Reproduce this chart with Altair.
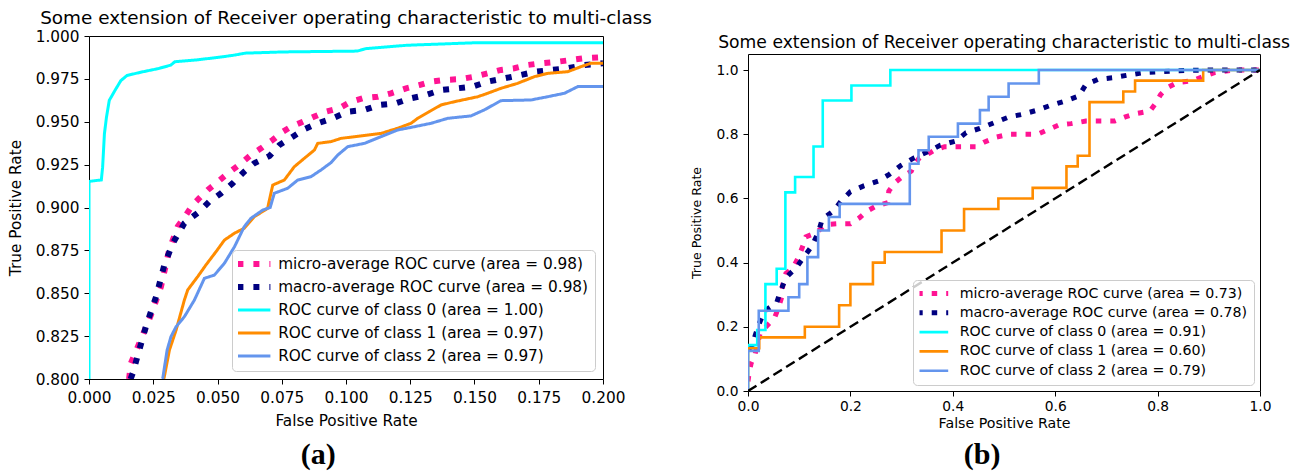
import altair as alt
import pandas as pd

FONT = "DejaVu Sans"
TITLE = "Some extension of Receiver operating characteristic to multi-class"
COLORS = ["#FF1493", "#000080", "#00FFFF", "#FF8C00", "#6495ED"]

# ---------------- panel (a): zoomed ROC ----------------
A_LABELS = [
    "micro-average ROC curve (area = 0.98)",
    "macro-average ROC curve (area = 0.98)",
    "ROC curve of class 0 (area = 1.00)",
    "ROC curve of class 1 (area = 0.97)",
    "ROC curve of class 2 (area = 0.97)",
]
A_MICRO_X = [0.0156, 0.0163, 0.0202, 0.0241, 0.028, 0.0312, 0.0345, 0.0377, 0.0403, 0.0429, 0.0462,
             0.0501, 0.054, 0.0592, 0.063, 0.0669, 0.0715, 0.0754, 0.0786, 0.0832, 0.0877, 0.0922,
             0.0974, 0.1019, 0.1065, 0.1123, 0.1175, 0.1234, 0.1285, 0.1331, 0.1383, 0.1441, 0.15,
             0.1551, 0.1603, 0.1655, 0.1707, 0.1759, 0.1824, 0.1875, 0.1927, 0.2]
A_MICRO_Y = [0.800, 0.8092, 0.8231, 0.8373, 0.8538, 0.8752, 0.8888, 0.8956, 0.9015, 0.9054, 0.9102,
             0.915, 0.9199, 0.9258, 0.9306, 0.9345, 0.9394, 0.9442, 0.9471, 0.95, 0.953, 0.9559,
             0.9579, 0.9617, 0.9637, 0.9646, 0.9666, 0.9695, 0.9714, 0.9734, 0.9744, 0.9748, 0.9763,
             0.9782, 0.9802, 0.9812, 0.9831, 0.9841, 0.985, 0.986, 0.987, 0.9876]
A_MACRO_X = [0.0162, 0.017, 0.0222, 0.0261, 0.0293, 0.0326, 0.0371, 0.0429, 0.0468, 0.0514, 0.0559,
             0.0604, 0.0643, 0.0702, 0.0741, 0.0793, 0.0838, 0.089, 0.0948, 0.1007, 0.1072, 0.113,
             0.1195, 0.1253, 0.1311, 0.137, 0.1434, 0.1493, 0.1551, 0.1616, 0.1681, 0.1739, 0.1798,
             0.1863, 0.1927, 0.2]
A_MACRO_Y = [0.800, 0.8033, 0.8309, 0.848, 0.8665, 0.8791, 0.8908, 0.8976, 0.9034, 0.9083, 0.9141,
             0.9209, 0.9258, 0.93, 0.9364, 0.9413, 0.9456, 0.9491, 0.952, 0.9559, 0.9569, 0.9598,
             0.9608, 0.9637, 0.9656, 0.9685, 0.9695, 0.9705, 0.9734, 0.9753, 0.9773, 0.9792, 0.9802,
             0.9812, 0.9831, 0.9841]
A_C0_X = [0.0, 0.0, 0.0048, 0.0053, 0.006, 0.0068, 0.0079, 0.010, 0.0124, 0.0148, 0.0205, 0.027,
          0.0318, 0.0334, 0.0415, 0.0495, 0.056, 0.0608, 0.0753, 0.1044, 0.1076, 0.1237, 0.151, 0.2]
A_C0_Y = [0.8, 0.9152, 0.9161, 0.9235, 0.943, 0.9527, 0.9625, 0.968, 0.974, 0.977, 0.979, 0.981,
          0.983, 0.985, 0.986, 0.9874, 0.9887, 0.990, 0.9907, 0.9912, 0.9926, 0.9946, 0.9961, 0.9961]
A_C1_X = [0.0291, 0.0293, 0.0313, 0.0339, 0.0371, 0.0384, 0.0423, 0.0455, 0.0494, 0.0527, 0.0566,
          0.0604, 0.0643, 0.0695, 0.0702, 0.0715, 0.076, 0.0799, 0.0838, 0.0877, 0.089, 0.0942,
          0.098, 0.1136, 0.1201, 0.1253, 0.1279, 0.1324, 0.137, 0.1422, 0.1513, 0.1551, 0.1603,
          0.1668, 0.1733, 0.1785, 0.1863, 0.1914, 0.1953, 0.2]
A_C1_Y = [0.800, 0.8013, 0.8169, 0.8286, 0.846, 0.8519, 0.8597, 0.8665, 0.8742, 0.881, 0.885,
          0.8879, 0.8946, 0.8995, 0.9044, 0.9131, 0.916, 0.9238, 0.9287, 0.9335, 0.9374, 0.9384,
          0.9403, 0.9432, 0.9462, 0.9491, 0.952, 0.9559, 0.9598, 0.9617, 0.9646, 0.9666, 0.9695,
          0.9724, 0.9763, 0.9782, 0.9792, 0.9821, 0.9841, 0.9841]
A_C2_X = [0.0285, 0.0287, 0.0304, 0.0319, 0.0339, 0.0371, 0.041, 0.0449, 0.0488, 0.0527, 0.0566,
          0.0604, 0.063, 0.0676, 0.0705, 0.0721, 0.0773, 0.0812, 0.0864, 0.0903, 0.0942, 0.0968,
          0.1007, 0.1072, 0.1136, 0.1201, 0.1266, 0.1331, 0.1396, 0.1486, 0.1538, 0.1603, 0.172,
          0.1785, 0.185, 0.1902, 0.2]
A_C2_Y = [0.800, 0.8004, 0.8169, 0.8247, 0.8305, 0.8363, 0.846, 0.8587, 0.8606, 0.8675, 0.8771,
          0.8888, 0.8937, 0.8985, 0.9, 0.9083, 0.9112, 0.916, 0.918, 0.9219, 0.9262, 0.9306,
          0.9355, 0.9374, 0.9413, 0.9452, 0.9471, 0.9491, 0.952, 0.9534, 0.9569, 0.9623, 0.9627,
          0.9646, 0.9666, 0.9705, 0.9705]
A_XTICKS = [0.0, 0.025, 0.05, 0.075, 0.1, 0.125, 0.15, 0.175, 0.2]
A_YTICKS = [0.8, 0.825, 0.85, 0.875, 0.9, 0.925, 0.95, 0.975, 1.0]

# ---------------- panel (b): full ROC ----------------
B_LABELS = [
    "micro-average ROC curve (area = 0.73)",
    "macro-average ROC curve (area = 0.78)",
    "ROC curve of class 0 (area = 0.91)",
    "ROC curve of class 1 (area = 0.60)",
    "ROC curve of class 2 (area = 0.79)",
]
B_MICRO_X = [0.0, 0.002, 0.006, 0.014, 0.024, 0.052, 0.06, 0.066, 0.068, 0.074, 0.088, 0.098, 0.106,
             0.113, 0.133, 0.152, 0.173, 0.2, 0.218, 0.233, 0.25, 0.273, 0.275, 0.287, 0.299, 0.319,
             0.325, 0.335, 0.348, 0.364, 0.384, 0.417, 0.445, 0.461, 0.485, 0.51, 0.538, 0.566,
             0.587, 0.607, 0.631, 0.66, 0.688, 0.716, 0.737, 0.757, 0.785, 0.797, 0.806, 0.819,
             0.838, 0.866, 0.891, 0.911, 0.947, 1.0]
B_MICRO_Y = [0.03, 0.054, 0.086, 0.116, 0.182, 0.228, 0.262, 0.293, 0.332, 0.366, 0.384, 0.415,
             0.447, 0.48, 0.493, 0.519, 0.521, 0.521, 0.54, 0.561, 0.576, 0.587, 0.623, 0.649,
             0.665, 0.685, 0.706, 0.727, 0.735, 0.75, 0.761, 0.761, 0.761, 0.775, 0.791, 0.8, 0.8,
             0.8, 0.815, 0.829, 0.833, 0.841, 0.841, 0.841, 0.854, 0.864, 0.872, 0.898, 0.924,
             0.945, 0.961, 0.966, 0.981, 0.992, 1.0, 1.0]
B_MACRO_X = [0.0, 0.008, 0.014, 0.022, 0.032, 0.056, 0.064, 0.075, 0.095, 0.125, 0.137, 0.145,
             0.167, 0.182, 0.2, 0.226, 0.254, 0.276, 0.299, 0.325, 0.352, 0.376, 0.406, 0.426,
             0.453, 0.481, 0.51, 0.536, 0.565, 0.591, 0.619, 0.646, 0.66, 0.684, 0.712, 0.741,
             0.773, 0.801, 0.83, 0.862, 0.891, 1.0]
B_MACRO_Y = [0.13, 0.14, 0.173, 0.21, 0.249, 0.275, 0.314, 0.355, 0.386, 0.452, 0.493, 0.535,
             0.561, 0.592, 0.621, 0.639, 0.654, 0.675, 0.703, 0.727, 0.746, 0.766, 0.779, 0.805,
             0.818, 0.836, 0.854, 0.862, 0.875, 0.89, 0.903, 0.919, 0.955, 0.971, 0.976, 0.984,
             0.992, 0.994, 0.997, 0.999, 1.0, 1.0]
B_C0_X = [0.0, 0.0, 0.018, 0.034, 0.056, 0.073, 0.092, 0.128, 0.146, 0.202, 0.278, 1.0]
B_C0_Y = [0.0, 0.143, 0.190, 0.333, 0.381, 0.619, 0.667, 0.762, 0.905, 0.952, 1.0, 1.0]
B_C1_X = [0.0, 0.0, 0.022, 0.111, 0.178, 0.2, 0.244, 0.267, 0.378, 0.422, 0.489, 0.556, 0.622,
          0.644, 0.667, 0.733, 0.756, 0.889, 1.0]
B_C1_Y = [0.0, 0.133, 0.167, 0.2, 0.267, 0.333, 0.4, 0.433, 0.5, 0.567, 0.6, 0.633, 0.7, 0.733,
          0.9, 0.933, 0.967, 1.0, 1.0]
B_C2_X = [0.0, 0.0, 0.021, 0.079, 0.1, 0.116, 0.137, 0.158, 0.179, 0.316, 0.333, 0.353, 0.41,
          0.453, 0.47, 0.509, 0.568, 1.0]
B_C2_Y = [0.0, 0.125, 0.25, 0.292, 0.333, 0.417, 0.5, 0.542, 0.583, 0.708, 0.75, 0.792, 0.833,
          0.875, 0.917, 0.958, 1.0, 1.0]
B_DIAG_X = [0.0, 1.0]
B_DIAG_Y = [0.0, 1.0]
B_TICKS = [0.0, 0.2, 0.4, 0.6, 0.8, 1.0]


def table(labels, xs, ys):
    rows = []
    for lab, xv, yv in zip(labels, xs, ys):
        for i, (a, b) in enumerate(zip(xv, yv)):
            rows.append({"series": lab, "fpr": a, "tpr": b, "i": i})
    return pd.DataFrame(rows)


def axis(values, fmt, title, lfs, tfs, lpad, tpad):
    return alt.Axis(values=values, format=fmt, title=title, grid=False, domain=False,
                    labelFont=FONT, labelFontSize=lfs, labelColor="black",
                    titleFont=FONT, titleFontSize=tfs, titleFontWeight="normal",
                    titleColor="black", tickColor="black", tickSize=5, tickWidth=1,
                    labelPadding=lpad, titlePadding=tpad, labelFlush=False,
                    labelOverlap=False)


def panel(labels, xs, ys, solid_interp, xdom, ydom, xticks, yticks, fmt, width, height,
          st, title=None, diag=None):
    df = table(labels, xs, ys)
    dot = st["dash"]
    enc = dict(
        x=alt.X("fpr:Q", scale=alt.Scale(domain=xdom, nice=False, zero=False),
                axis=axis(xticks, fmt, "False Positive Rate", st["lfs"], st["xtfs"],
                          st["xlpad"], st["xtpad"])),
        y=alt.Y("tpr:Q", scale=alt.Scale(domain=ydom, nice=False, zero=False),
                axis=axis(yticks, fmt, "True Positive Rate", st["lfs"], st["ytfs"],
                          5, st["ytpad"])),
        order=alt.Order("i:Q"),
        color=alt.Color("series:N", scale=alt.Scale(domain=labels, range=COLORS),
                        legend=alt.Legend(
                            orient="bottom-right", offset=st["loff"], title=None,
                            symbolType="stroke", symbolSize=st["symsize"],
                            clipHeight=st["cliph"],
                            labelFont=FONT, labelFontSize=st["legfs"], labelColor="black",
                            labelLimit=600, padding=st["lpad"], rowPadding=st["rowpad"],
                            labelOffset=st["labeloff"], symbolOffset=st["symoff"],
                            fillColor="rgba(255,255,255,0.8)", strokeColor="#cccccc",
                            cornerRadius=4)),
        strokeDash=alt.StrokeDash("series:N", scale=alt.Scale(
            domain=labels, range=[dot, dot, [1, 0], [1, 0], [1, 0]])),
        strokeWidth=alt.StrokeWidth("series:N", scale=alt.Scale(
            type="ordinal", domain=labels,
            range=[st["dw"], st["dw"], st["sw"], st["sw"], st["sw"]])),
    )
    base = alt.Chart(df)
    dotted = base.transform_filter(
        alt.FieldOneOfPredicate(field="series", oneOf=labels[:2])
    ).mark_line(clip=True).encode(**enc)
    solid = base.transform_filter(
        alt.FieldOneOfPredicate(field="series", oneOf=labels[2:])
    ).mark_line(clip=True, interpolate=solid_interp).encode(**enc)
    layers = [dotted, solid]
    if diag is not None:
        ddf = pd.DataFrame({"fpr": diag[0], "tpr": diag[1]})
        layers.append(
            alt.Chart(ddf).mark_line(color="black", strokeDash=[10, 5], strokeWidth=2.4,
                                     clip=True)
            .encode(x=alt.X("fpr:Q"), y=alt.Y("tpr:Q"))
        )
    props = dict(width=width, height=height)
    if title is not None:
        props["title"] = title
    return alt.layer(*layers).properties(**props)


st_a = dict(dash=[6, 10], dw=6, sw=3, lfs=15.3, xtfs=15.3, ytfs=15.3, xlpad=6, xtpad=8,
            ytpad=11.5, loff=8, symsize=1089, cliph=16, legfs=15.3, lpad=6, rowpad=6,
            labeloff=4.8, symoff=-3.6)
st_b = dict(dash=[5.5, 9], dw=5, sw=2.6, lfs=13.8, xtfs=14.2, ytfs=12.6, xlpad=3.5, xtpad=3,
            ytpad=12.5, loff=6, symsize=961, cliph=14, legfs=14.2, lpad=6.5, rowpad=4.3,
            labeloff=9, symoff=-4.8)

title_a = alt.TitleParams(text=TITLE, font=FONT, fontSize=18.4, fontWeight="normal",
                          color="black", offset=2, anchor="middle")
title_b = alt.TitleParams(text=TITLE, font=FONT, fontSize=17.2, fontWeight="normal",
                          color="black", offset=3.3, anchor="middle")

chart_a = panel(A_LABELS, [A_MICRO_X, A_MACRO_X, A_C0_X, A_C1_X, A_C2_X],
                [A_MICRO_Y, A_MACRO_Y, A_C0_Y, A_C1_Y, A_C2_Y], "linear",
                [0.0, 0.2], [0.8, 1.0], A_XTICKS, A_YTICKS, ".3f", 514, 343, st_a, title_a)
chart_b = panel(B_LABELS, [B_MICRO_X, B_MACRO_X, B_C0_X, B_C1_X, B_C2_X],
                [B_MICRO_Y, B_MACRO_Y, B_C0_Y, B_C1_Y, B_C2_Y], "step-after",
                [0.0, 1.0], [0.0, 1.05], B_TICKS, B_TICKS, ".1f", 512, 337, st_b, title_b,
                diag=(B_DIAG_X, B_DIAG_Y))

# invisible 1px strip that lowers panel (b) relative to panel (a)
spacer = (
    alt.Chart(pd.DataFrame({"v": [0]}))
    .mark_point(opacity=0)
    .encode(x=alt.X("v:Q", axis=None), y=alt.Y("v:Q", axis=None))
    .properties(width=512, height=1, view=alt.ViewBackground(stroke=None))
)

IND = dict(color="independent", strokeDash="independent", strokeWidth="independent")


def caption(text, dx, offset):
    return alt.TitleParams(text=text, orient="bottom", anchor="middle", frame="bounds",
                           font="Liberation Serif", fontSize=30, fontWeight="bold",
                           color="black", offset=offset, dx=dx)


wrap_a = alt.vconcat(chart_a, title=caption("(a)", -12, 11)).resolve_scale(**IND)
wrap_b = alt.vconcat(spacer, chart_b, spacing=-7,
                     title=caption("(b)", -8, 9)).resolve_scale(**IND)

chart = (
    alt.hconcat(wrap_a, wrap_b, spacing=37)
    .resolve_scale(**IND)
    .properties(padding=0)
    .configure_view(stroke="black", strokeWidth=1)
)

chart.save("out.html", embed_options={"renderer": "svg", "actions": False})
